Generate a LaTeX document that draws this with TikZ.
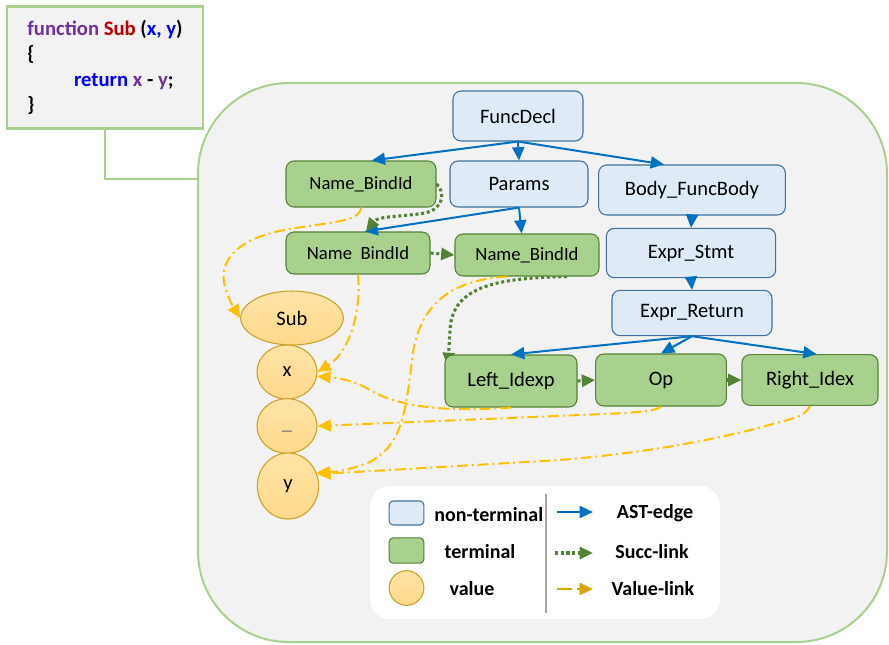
\documentclass[tikz,border=0pt]{standalone}
\usepackage{fontspec}
\setmainfont{Carlito}
\usetikzlibrary{arrows.meta,shapes.geometric}
\definecolor{ntfill}{HTML}{DEEBF7}
\definecolor{ntdraw}{HTML}{41719C}
\definecolor{tfill}{HTML}{A9D18E}
\definecolor{tdraw}{HTML}{548235}
\definecolor{vfill}{HTML}{FFD98C}
\definecolor{vtop}{HTML}{FFE3A6}
\definecolor{vdraw}{HTML}{C9A227}
\definecolor{astblue}{HTML}{0070C0}
\definecolor{succgreen}{HTML}{548235}
\definecolor{valgold}{HTML}{FFC000}
\definecolor{valdark}{HTML}{D9A300}
\definecolor{boxgreen}{HTML}{A9D18E}
\definecolor{bggray}{HTML}{F2F2F2}
\definecolor{kwpurple}{HTML}{7030A0}
\definecolor{kwred}{HTML}{C00000}
\definecolor{kwblue}{HTML}{0000FF}
\pgfdeclarelayer{back}
\pgfsetlayers{back,main}
\begin{document}
\begin{tikzpicture}[x=0.75pt,y=-0.75pt,
  font=\fontsize{15.4}{18}\selectfont,
  nonterm/.style={draw=ntdraw,fill=ntfill,rounded corners=6pt,line width=0.8pt,inner sep=0pt},
  term/.style={draw=tdraw,fill=tfill,rounded corners=6pt,line width=0.8pt,inner sep=0pt},
  bindfont/.style={font=\fontsize{14}{16}\selectfont},
  valnode/.style={ellipse,draw=vdraw,top color=vtop,bottom color=vfill,line width=0.8pt,inner sep=0pt},
  astedge/.style={astblue,line width=1.5pt,-{Triangle[length=10pt,width=9pt]}},
  succlink/.style={succgreen,line width=2.3pt,dash pattern=on 2.3pt off 2pt,-{Triangle[length=10pt,width=9pt]}},
  vallink/.style={valgold,line width=1.5pt,dash pattern=on 8pt off 3pt on 1.5pt off 3pt,-{Triangle[length=10pt,width=9pt]}},
  legtext/.style={font=\fontsize{15}{18}\selectfont\bfseries}]
\useasboundingbox (0,0) rectangle (889,644);
\begin{pgfonlayer}{back}
\node[draw=boxgreen,fill=bggray,line width=1.5pt,rounded corners=68pt,minimum width=516.75pt,minimum height=419.25pt] (panel) at (542.5,362.5) {};
\end{pgfonlayer}
\node[draw=boxgreen,fill=bggray,line width=2.2pt,minimum width=147pt,minimum height=92pt,align=left,font=\fontsize{15.5}{19}\selectfont\bfseries] (code) at (105,67.5)
  {\textcolor{kwpurple}{function} \textcolor{kwred}{Sub} (\textcolor{kwblue}{x, y})\\
   \{\\
   \hspace*{35pt}\textcolor{kwblue}{return} \textcolor{kwpurple}{x} - \textcolor{kwpurple}{y};\\
   \}};
\draw[boxgreen,line width=2.2pt] (code.south) |- (panel.west |- 0,179);

\node[nonterm,minimum width=97.5pt,minimum height=37.5pt] (fd) at (518,116) {FuncDecl};
\node[term,bindfont,minimum width=112.5pt,minimum height=34.5pt] (n1) at (361,184) {Name\_BindId};
\node[nonterm,minimum width=103.5pt,minimum height=34.5pt] (params) at (519,184) {Params};
\node[nonterm,minimum width=140pt,minimum height=37.5pt] (body) at (692,190) {Body\_FuncBody};
\node[term,bindfont,minimum width=108pt,minimum height=31.5pt] (n2) at (358,253) {Name\ \ BindId};
\node[term,bindfont,minimum width=108pt,minimum height=31.5pt] (n3) at (527,255) {Name\_BindId};
\node[nonterm,minimum width=127pt,minimum height=37pt] (stmt) at (691,253) {Expr\_Stmt};
\node[nonterm,minimum width=120pt,minimum height=34pt] (ret) at (692,313) {Expr\_Return};
\node[term,minimum width=99pt,minimum height=39pt] (left) at (511,381) {Left\_Idexp};
\node[term,minimum width=98pt,minimum height=39pt] (op) at (661,380) {Op};
\node[term,minimum width=102pt,minimum height=38pt] (right) at (810,380) {Right\_Idex};
\node[valnode,minimum width=77pt,minimum height=40.5pt] (sub) at (292,318) {Sub};
\node[valnode,minimum width=45pt,minimum height=40.5pt] (xv) at (287,372) {x};
\node[valnode,minimum width=45pt,minimum height=41pt,text=black!55] (uv) at (287,426) {\vphantom{x}\_};
\node[valnode,minimum width=46pt,minimum height=49.5pt] (yv) at (288,486) {y};

\draw[astedge] (fd.south) -- ([xshift=8pt]n1.north);
\draw[astedge] (fd.south) -- (params.north);
\draw[astedge] (fd.south) -- ([xshift=-21pt]body.north);
\draw[astedge] (params.south) -- ([xshift=5pt]n2.north);
\draw[astedge] (params.south) -- ([xshift=-4pt]n3.north);
\draw[astedge] (body.south) -- (stmt.north);
\draw[astedge] (stmt.south) -- (ret.north);
\draw[astedge] (ret.south) -- (left.north);
\draw[astedge] (ret.south) -- (op.north);
\draw[astedge] (ret.south) -- ([xshift=5pt]right.north);

\draw[succlink] (n1.east) .. controls (444,190) and (446,208) .. (425,213) .. controls (400,217) and (378,216) .. ([xshift=6pt]n2.north);
\draw[succlink] (n2.east) -- (n3.west);
\begin{pgfonlayer}{back}
\draw[succlink] ([xshift=30pt]n3.south) .. controls (500,278) and (452,285) .. (450,330) -- (448,366);
\end{pgfonlayer}
\draw[succlink] (left.east) -- (op.west);
\draw[succlink] (op.east) -- (right.west);

\draw[vallink] (n1.south) .. controls (360,222) and (330,222) .. (290,229) .. controls (240,237) and (215,260) .. (226,290) .. controls (230,302) and (234,308) .. (sub.west);
\draw[vallink] (n2.south) .. controls (362,320) and (345,355) .. (xv.east);
\draw[vallink] ([xshift=-15pt]n3.south) .. controls (450,280) and (418,305) .. (412,360) .. controls (405,420) and (400,445) .. (370,462) .. controls (350,470) and (335,472) .. (yv.25);
\draw[vallink] (left.south) .. controls (450,412) and (400,408) .. (370,390) .. controls (355,381) and (340,378) .. (xv.-8);
\draw[vallink] (op.south) .. controls (655,412) and (630,413) .. (580,415) -- (uv.east);
\draw[vallink] (right.south) .. controls (806,414) and (800,417) .. (780,422) .. controls (700,445) and (620,455) .. (560,460) -- (yv.22);

\node[fill=white,rounded corners=15pt,minimum width=262.5pt,minimum height=99.75pt] (legend) at (545,552.5) {};
\draw[gray!70,line width=1.5pt] (546,494) -- (546,613);
\node[nonterm,rounded corners=3pt,minimum width=26pt,minimum height=18pt] (keynt) at (406.5,513) {};
\node[term,rounded corners=3pt,minimum width=26pt,minimum height=19pt] (keyt) at (406.5,550.5) {};
\node[valnode,minimum width=26pt,minimum height=26pt] (keyv) at (406.5,588) {};
\node[legtext,anchor=west,inner sep=0pt] (ntlabel) at (434,515) {non-terminal};
\node[legtext] (tlabel) at (480,552) {terminal};
\node[legtext] (vlabel) at (472,589) {value};
\coordinate (a1) at (557,512);
\coordinate (a2) at (593,512);
\coordinate (s1) at (555,553);
\coordinate (s2) at (593,553);
\coordinate (v1) at (557,589);
\coordinate (v2) at (593,589);
\draw[astedge] (a1) -- (a2);
\draw[succlink] (s1) -- (s2);
\draw[vallink,valdark,dash pattern=on 11pt off 4pt] (v1) -- (v2);
\node[legtext] (astlabel) at (655,513) {AST-edge};
\node[legtext] (succlabel) at (652,552) {Succ-link};
\node[legtext] (vallabel) at (653,589) {Value-link};
\end{tikzpicture}
\end{document}
